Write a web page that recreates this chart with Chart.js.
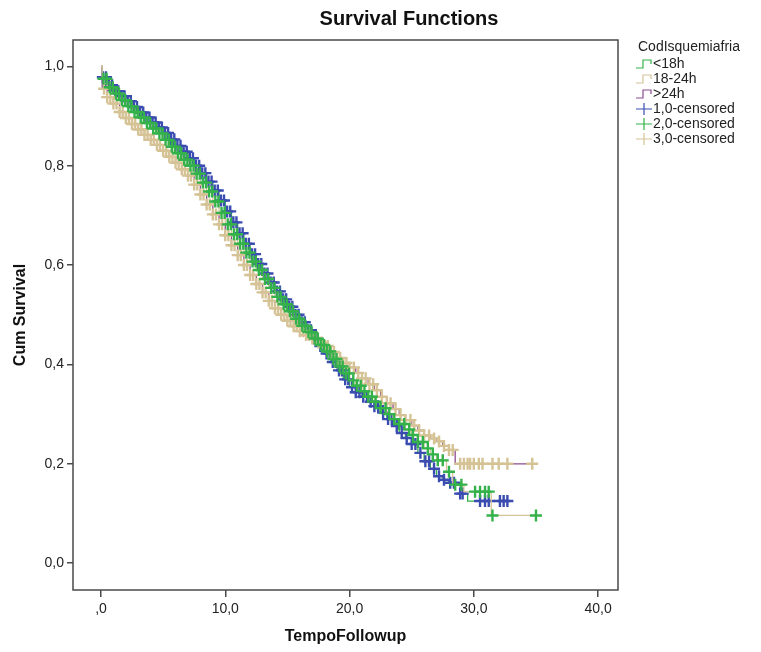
<!DOCTYPE html>
<html>
<head>
<meta charset="utf-8">
<title>Survival Functions</title>
<script src="https://cdn.jsdelivr.net/npm/chart.js@4.4.1/dist/chart.umd.min.js"></script>
<style>
  html,body{margin:0;padding:0;background:#fff}
  #km-wrap{position:relative;width:761px;height:652px}
</style>
</head>
<body>
<div id="km-wrap"><canvas id="km-canvas"></canvas></div>
<script>
/* Survival Functions — Kaplan-Meier curves by CodIsquemiafria */

/* ── Data ── */
var TITLE = 'Survival Functions';
var LEGEND_TITLE = 'CodIsquemiafria';
var groupLabels = ['<18h','18-24h','>24h'];
var censorLabels = ['1,0-censored','2,0-censored','3,0-censored'];

// KM steps: time of each drop and survival right after it
var g1Time = [0,0.1,0.5,1,1.5,2,2.5,3,3.5,4,4.5,5,5.5,6,6.5,7,7.5,8,8.5,9,9.5,10,10.5,11,11.5,12,12.5,13,13.5,14,14.5,15,15.5,16,16.5,17,17.5,18,18.5,19,19.5,20,20.5,21,21.5,22,22.5,23,23.5,24,24.5,25,25.5,26,26.5,27,27.5,28,28.9,29.5,32.7];
var g1Surv = [1,0.978,0.962,0.95,0.94,0.93,0.918,0.907,0.897,0.887,0.877,0.866,0.853,0.84,0.828,0.815,0.8,0.785,0.768,0.75,0.73,0.708,0.686,0.664,0.643,0.622,0.602,0.583,0.565,0.547,0.531,0.516,0.5,0.485,0.469,0.452,0.437,0.422,0.405,0.388,0.37,0.354,0.344,0.335,0.325,0.316,0.303,0.29,0.276,0.262,0.252,0.24,0.222,0.205,0.19,0.175,0.168,0.162,0.14,0.125,0.125];

var g2Time = [0,0.1,0.5,1,1.5,2,2.5,3,3.5,4,4.5,5,5.5,6,6.5,7,7.5,8,8.5,9,9.5,10,10.5,11,11.5,12,12.5,13,13.5,14,14.5,15,15.5,16,16.5,17,17.5,18,18.5,19,19.5,20,20.5,21,21.5,22,22.5,23,23.5,24,24.5,25,25.5,26,26.5,27,27.8,28.3,29.2,31.4,35.0];
var g2Surv = [1,0.975,0.958,0.945,0.932,0.92,0.908,0.897,0.886,0.875,0.865,0.852,0.838,0.825,0.812,0.8,0.784,0.766,0.748,0.728,0.705,0.682,0.662,0.643,0.625,0.607,0.59,0.572,0.554,0.536,0.521,0.507,0.492,0.478,0.465,0.452,0.439,0.426,0.411,0.396,0.382,0.368,0.357,0.346,0.335,0.325,0.312,0.3,0.29,0.28,0.269,0.258,0.244,0.231,0.219,0.207,0.184,0.158,0.144,0.096,0.096];

var g3Time = [0,0.1,0.5,1,1.5,2,2.5,3,3.5,4,4.5,5,5.5,6,6.5,7,7.5,8,8.5,9,9.5,10,10.5,11,11.5,12,12.5,13,13.5,14,14.5,15,15.5,16,16.5,17,17.5,18,18.5,19,19.5,20,20.5,21,21.5,22,22.5,23,23.5,24,24.5,25,25.5,26,26.5,27,27.5,28,28.5,34.7];
var g3Surv = [1,0.955,0.938,0.925,0.908,0.896,0.884,0.873,0.862,0.852,0.842,0.83,0.818,0.806,0.793,0.78,0.762,0.742,0.722,0.702,0.682,0.66,0.64,0.62,0.6,0.58,0.562,0.545,0.528,0.513,0.5,0.488,0.477,0.467,0.459,0.452,0.444,0.437,0.425,0.413,0.403,0.394,0.383,0.372,0.36,0.348,0.335,0.322,0.31,0.298,0.288,0.277,0.267,0.257,0.251,0.245,0.236,0.228,0.2,0.2];

// censoring times (marks sit on the curve at that time)
var g1Cens = [0.15,0.4,0.65,0.9,1.15,1.4,1.65,1.9,2.15,2.4,2.65,2.9,3.15,3.4,3.65,3.9,4.15,4.4,4.65,4.9,5.15,5.4,5.65,5.9,6.15,6.4,6.65,6.9,7.15,7.4,7.65,7.9,8.15,8.4,8.65,8.9,9.15,9.4,9.65,9.9,10.15,10.4,10.65,10.9,11.15,11.4,11.65,11.9,12.15,12.4,12.65,12.9,13.15,13.4,13.65,13.9,14.15,14.4,14.65,14.9,15.15,15.4,15.65,15.9,16.15,16.4,16.65,16.9,17.15,17.4,17.65,17.9,18.15,18.4,18.65,18.9,19.15,19.4,19.65,19.9,20.2,20.5,20.8,21.1,21.4,21.7,22.0,22.3,22.7,23.1,23.4,23.8,24.2,24.6,25.0,25.3,25.7,26.1,26.4,26.8,27.2,27.6,28.1,28.4,28.9,29.1,30.5,30.9,31.2,32.1,32.4,32.7];
var g2Cens = [0.2,0.45,0.7,0.95,1.2,1.45,1.7,1.95,2.2,2.45,2.7,2.95,3.2,3.45,3.7,3.95,4.2,4.45,4.7,4.95,5.2,5.45,5.7,5.95,6.2,6.45,6.7,6.95,7.2,7.45,7.7,7.95,8.2,8.45,8.7,8.95,9.2,9.45,9.7,9.95,10.2,10.45,10.7,10.95,11.2,11.45,11.7,11.95,12.2,12.45,12.7,12.95,13.2,13.45,13.7,13.95,14.2,14.45,14.7,14.95,15.2,15.45,15.7,15.95,16.2,16.45,16.7,16.95,17.2,17.45,17.7,17.95,18.2,18.45,18.7,18.95,19.2,19.45,19.7,19.95,20.3,20.6,20.9,21.2,21.5,21.8,22.1,22.5,22.9,23.2,23.6,24.0,24.4,24.8,25.1,25.5,25.9,26.3,26.7,27.1,27.5,28.0,28.5,29.0,30.1,30.5,30.9,31.2,31.5,35.0];
var g3Cens = [0.25,0.5,0.75,1.0,1.25,1.5,1.75,2.0,2.25,2.5,2.75,3.0,3.25,3.5,3.75,4.0,4.25,4.5,4.75,5.0,5.25,5.5,5.75,6.0,6.25,6.5,6.75,7.0,7.25,7.5,7.75,8.0,8.25,8.5,8.75,9.0,9.25,9.5,9.75,10.0,10.25,10.5,10.75,11.0,11.25,11.5,11.75,12.0,12.25,12.5,12.75,13.0,13.25,13.5,13.75,14.0,14.25,14.5,14.75,15.0,15.25,15.5,15.75,16.0,16.25,16.5,16.75,17.0,17.25,17.5,17.75,18.0,18.25,18.5,18.75,19.0,19.25,19.5,19.75,20.0,20.35,20.7,21.0,21.3,21.6,21.9,22.2,22.6,23.0,23.3,23.7,24.1,24.5,24.9,25.2,25.6,26.0,26.4,26.8,27.2,27.6,28.0,28.3,28.9,29.2,29.5,29.7,30.0,30.4,30.7,31.5,32.0,32.7,34.7];

var xTicks = [0, 10, 20, 30, 40];
var xTickLabels = [',0', '10,0', '20,0', '30,0', '40,0'];
var yTicks = [0, 0.2, 0.4, 0.6, 0.8, 1.0];
var yTickLabels = ['0,0', '0,2', '0,4', '0,6', '0,8', '1,0'];

/* ── Colours ── */
var lineColors = ['#35b04a', '#d4c49a', '#8c4b90'];
var censColors = ['#3a4cb0', '#34b24a', '#d5c396'];
var censOrder = [5, 1, 3];   // green marks on top, then tan, then blue
var FONT = '"Liberation Sans", Arial, sans-serif';

/* ── Helpers ── */
function toPoints(times, surv){
  return times.map(function(t,i){ return {x:t, y:surv[i]}; });
}
// survival value of the step curve at time t
function survAt(times, surv, t){
  var s = surv[0];
  for(var i=0;i<times.length;i++){
    if(times[i]<=t) s=surv[i]; else break;
  }
  return s;
}
function censPoints(cens, times, surv){
  return cens.map(function(t){ return {x:t, y:survAt(times, surv, t)}; });
}

var groups = [
  {time:g1Time, surv:g1Surv, cens:g1Cens},
  {time:g2Time, surv:g2Surv, cens:g2Cens},
  {time:g3Time, surv:g3Surv, cens:g3Cens}
];

var datasets = [];
groups.forEach(function(g, i){
  datasets.push({
    label:groupLabels[i],
    data:toPoints(g.time, g.surv),
    stepped:true,
    borderColor:lineColors[i],
    borderWidth:1.3,
    pointRadius:0,
    fill:false,
    order:censOrder[i]+1
  });
  datasets.push({
    label:censorLabels[i],
    data:censPoints(g.cens, g.time, g.surv),
    showLine:false,
    pointStyle:'cross',
    pointRadius:6,
    pointBorderWidth:2.4,
    pointBorderColor:censColors[i],
    pointBackgroundColor:censColors[i],
    order:censOrder[i]
  });
});

/* ── Frame, title and legend (SPSS look) ── */
var kmDecor = {
  id:'kmDecor',
  afterDraw:function(chart){
    var ctx = chart.ctx, a = chart.chartArea;
    ctx.save();
    ctx.strokeStyle = '#4a4a4a';
    ctx.lineWidth = 1.5;
    ctx.strokeRect(a.left, a.top, a.right-a.left, a.bottom-a.top);

    ctx.fillStyle = '#111';
    ctx.font = 'bold 20px '+FONT;
    ctx.textAlign = 'center';
    ctx.textBaseline = 'middle';
    ctx.fillText(TITLE, 409, 19);

    ctx.textAlign = 'left';
    ctx.font = '14px '+FONT;
    ctx.fillStyle = '#222';
    ctx.fillText(LEGEND_TITLE, 638, 47);

    var rowY = [64, 79, 94, 109, 124, 139];
    ctx.lineWidth = 1.2;
    groupLabels.forEach(function(lbl, i){
      var y = rowY[i];
      ctx.strokeStyle = lineColors[i];
      ctx.beginPath();
      ctx.moveTo(636, y+4); ctx.lineTo(643, y+4); ctx.lineTo(643, y-4);
      ctx.lineTo(651, y-4); ctx.lineTo(651, y);
      ctx.stroke();
      ctx.fillText(lbl, 653, y);
    });
    censorLabels.forEach(function(lbl, i){
      var y = rowY[i+3];
      ctx.strokeStyle = censColors[i];
      ctx.beginPath();
      ctx.moveTo(636, y); ctx.lineTo(652, y);
      ctx.moveTo(644, y-6); ctx.lineTo(644, y+6);
      ctx.stroke();
      ctx.fillText(lbl, 653, y);
    });
    ctx.restore();
  }
};

/* ── Chart ── */
var ctx = document.getElementById('km-canvas');
var kmChart = new Chart(ctx, {
  type:'line',
  data:{datasets:datasets},
  options:{
    responsive:true, maintainAspectRatio:false, animation:false,
    layout:{padding:{top:40, right:143, left:0, bottom:0}},
    plugins:{legend:{display:false}, tooltip:{enabled:false}, title:{display:false}},
    scales:{
      x:{
        type:'linear', min:-2.25, max:41.6,
        afterBuildTicks:function(s){ s.ticks = xTicks.map(function(v){ return {value:v}; }); },
        afterFit:function(s){ s.height = 62; },
        grid:{drawOnChartArea:false, drawTicks:true, tickLength:7, color:'#4a4a4a', lineWidth:1.5},
        border:{display:false},
        ticks:{
          padding:4, color:'#222', font:{family:FONT, size:14}, maxRotation:0,
          callback:function(v){ var k = xTicks.indexOf(v); return k<0 ? '' : xTickLabels[k]; }
        },
        title:{display:true, text:'TempoFollowup', color:'#111', font:{family:FONT, size:16, weight:'bold'}, padding:{top:0, bottom:6}}
      },
      y:{
        type:'linear', min:-0.054, max:1.053,
        afterBuildTicks:function(s){ s.ticks = yTicks.map(function(v){ return {value:v}; }); },
        afterFit:function(s){ s.width = 73; },
        grid:{drawOnChartArea:false, drawTicks:true, tickLength:6, color:'#4a4a4a', lineWidth:1.5},
        border:{display:false},
        ticks:{
          padding:3, color:'#222', font:{family:FONT, size:14},
          callback:function(v){ var k = yTicks.indexOf(v); return k<0 ? '' : yTickLabels[k]; }
        },
        title:{display:true, text:'Cum Survival', color:'#111', font:{family:FONT, size:16, weight:'bold'}, padding:{top:11, bottom:0}}
      }
    }
  },
  plugins:[kmDecor]
});
</script>
</body>
</html>
